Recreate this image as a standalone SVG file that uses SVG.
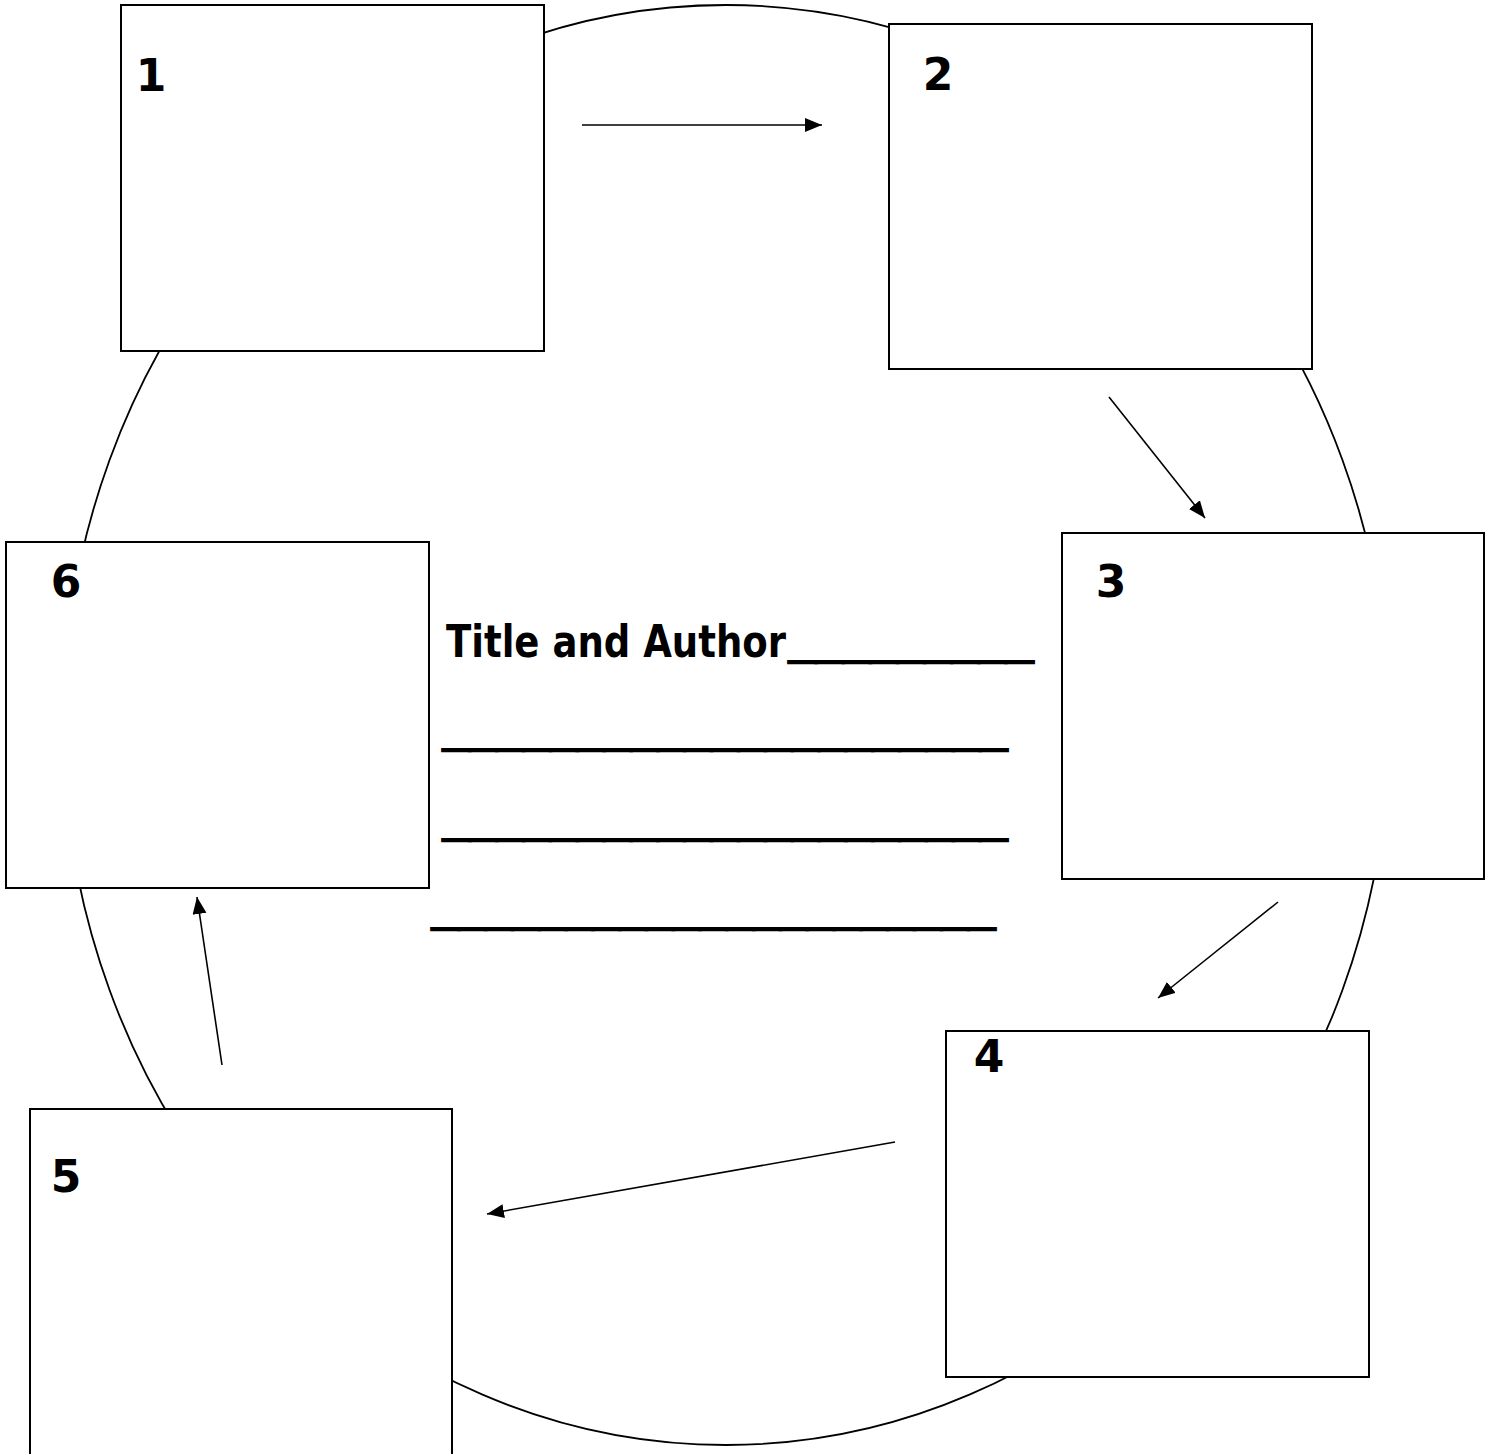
<svg xmlns="http://www.w3.org/2000/svg" width="1493" height="1454" viewBox="0 0 1493 1454">
<style>
.box{fill:#fff;stroke:#000;stroke-width:2}
.ring{fill:none;stroke:#000;stroke-width:1.8}
.arr{stroke:#000;stroke-width:1.6;fill:none;marker-end:url(#ah)}
.num{font-family:"DejaVu Sans","Liberation Sans",sans-serif;font-weight:bold;font-size:44px;fill:#000;text-anchor:middle}
.ttl{font-family:"DejaVu Sans","Liberation Sans",sans-serif;font-weight:bold;font-size:44px;fill:#000}
.ul{font-family:"Liberation Sans",sans-serif;font-weight:bold;font-size:44px;fill:#000;stroke:#000;stroke-width:2.6}
</style>
<defs>
<marker id="ah" markerUnits="userSpaceOnUse" markerWidth="18" markerHeight="15" refX="17" refY="7" orient="auto">
<path d="M0,0 L17,7 L0,14 Z" fill="#000"/>
</marker>
</defs>
<rect width="1493" height="1454" fill="#fff"/>
<ellipse class="ring" cx="726" cy="725" rx="663" ry="720"/>
<g id="connectors">
<line class="arr" x1="582" y1="125" x2="822" y2="125"/>
<line class="arr" x1="1109" y1="397" x2="1205" y2="518"/>
<line class="arr" x1="1278" y1="902" x2="1158" y2="998"/>
<line class="arr" x1="895" y1="1142" x2="487" y2="1214"/>
<line class="arr" x1="222" y1="1065" x2="197" y2="897"/>
</g>
<g id="node1"><rect class="box" x="121" y="5" width="423" height="346"/><text class="num" x="151" y="91">1</text></g>
<g id="node2"><rect class="box" x="889" y="24" width="423" height="345"/><text class="num" x="938" y="90">2</text></g>
<g id="node3"><rect class="box" x="1062" y="533" width="422" height="346"/><text class="num" x="1111" y="597">3</text></g>
<g id="node4"><rect class="box" x="946" y="1031" width="423" height="346"/><text class="num" x="989" y="1072">4</text></g>
<g id="node5"><rect class="box" x="30" y="1109" width="422" height="346"/><text class="num" x="66" y="1192">5</text></g>
<g id="node6"><rect class="box" x="6" y="542" width="423" height="346"/><text class="num" x="66" y="597">6</text></g>
<g id="title">
<text class="ttl"><tspan x="446" y="657" textLength="340" lengthAdjust="spacingAndGlyphs">Title and Author</tspan><tspan class="ul" x="789" y="658" textLength="244" lengthAdjust="spacingAndGlyphs">_________</tspan></text>
<text class="ul" x="443" y="745.5" textLength="564" lengthAdjust="spacingAndGlyphs">_____________________</text>
<text class="ul" x="443" y="835.5" textLength="564" lengthAdjust="spacingAndGlyphs">_____________________</text>
<text class="ul" x="432" y="924.5" textLength="563" lengthAdjust="spacingAndGlyphs">_____________________</text>
</g>
</svg>
